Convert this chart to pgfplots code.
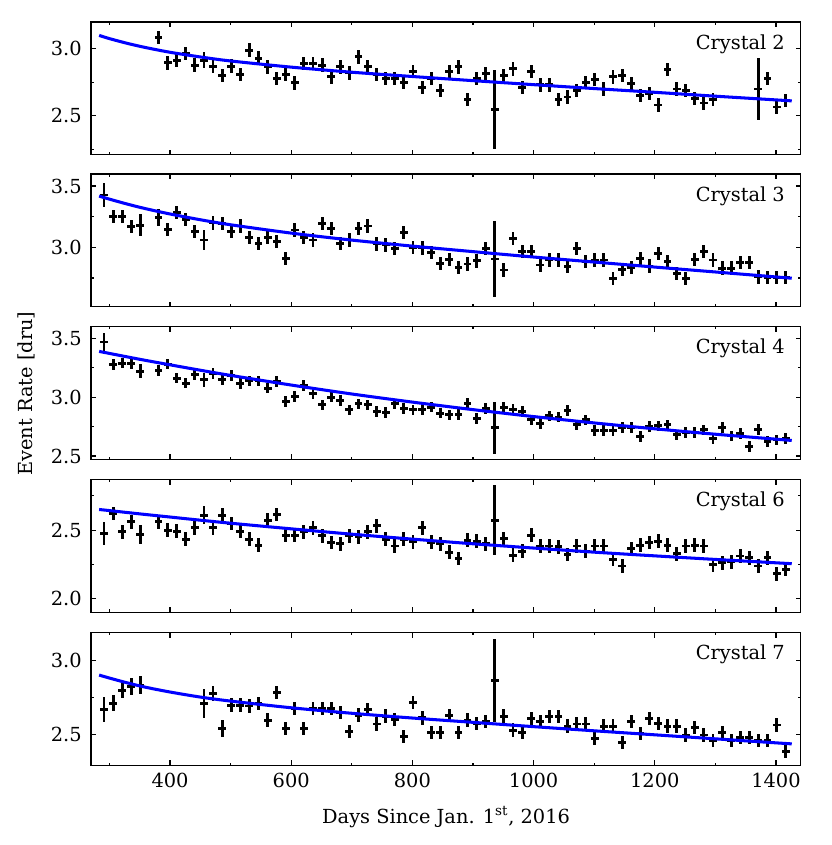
\documentclass[border=0pt]{standalone}
\usepackage{fontspec}
\setmainfont{DejaVu Serif}
\usepackage{pgfplots}
\pgfplotsset{compat=1.18}
\usepackage{pgfplotstable}

\pgfplotstableread{
x y e
381 3.085 0.05
396 2.895 0.05
411 2.915 0.05
426 2.965 0.05
441 2.878 0.05
456 2.915 0.06
471 2.870 0.05
486 2.800 0.05
501 2.870 0.05
516 2.810 0.05
531 2.990 0.05
546 2.930 0.05
561 2.865 0.05
576 2.780 0.05
591 2.810 0.05
606 2.745 0.05
621 2.890 0.05
636 2.890 0.05
651 2.878 0.05
666 2.790 0.05
681 2.865 0.05
696 2.820 0.05
711 2.940 0.05
726 2.865 0.05
741 2.810 0.05
756 2.780 0.05
771 2.780 0.05
786 2.750 0.05
801 2.830 0.05
816 2.710 0.05
831 2.780 0.05
846 2.688 0.05
861 2.830 0.05
876 2.865 0.05
891 2.620 0.05
906 2.780 0.05
921 2.815 0.05
936 2.546 0.294
951 2.800 0.05
966 2.850 0.05
981 2.710 0.05
996 2.830 0.05
1011 2.730 0.05
1026 2.730 0.05
1041 2.620 0.05
1056 2.640 0.05
1071 2.690 0.05
1086 2.750 0.05
1101 2.770 0.05
1116 2.700 0.05
1131 2.790 0.05
1146 2.800 0.05
1161 2.740 0.05
1176 2.650 0.05
1191 2.665 0.05
1206 2.580 0.05
1221 2.845 0.05
1236 2.700 0.05
1251 2.690 0.05
1266 2.630 0.05
1281 2.595 0.05
1296 2.620 0.05
1371 2.700 0.229
1386 2.780 0.05
1401 2.565 0.05
1416 2.615 0.05
}\tabA

\pgfplotstableread{
x y e
291 3.427 0.10
306 3.250 0.055
321 3.250 0.055
336 3.168 0.055
351 3.180 0.088
381 3.245 0.07
396 3.147 0.055
411 3.283 0.055
426 3.228 0.055
441 3.128 0.055
456 3.060 0.08
471 3.200 0.055
486 3.196 0.055
501 3.128 0.055
516 3.174 0.055
531 3.080 0.055
546 3.033 0.055
561 3.080 0.055
576 3.046 0.055
591 2.910 0.055
606 3.141 0.055
621 3.080 0.055
636 3.060 0.055
651 3.196 0.055
666 3.155 0.055
681 3.033 0.055
696 3.060 0.055
711 3.155 0.055
726 3.174 0.055
741 3.027 0.055
756 3.019 0.055
771 2.990 0.055
786 3.120 0.055
801 3.000 0.055
816 2.995 0.055
831 2.958 0.055
846 2.870 0.055
861 2.900 0.055
876 2.834 0.055
891 2.864 0.055
906 2.890 0.055
921 2.990 0.055
936 2.905 0.31
951 2.815 0.055
966 3.073 0.055
981 2.965 0.055
996 2.965 0.055
1011 2.856 0.055
1026 2.897 0.055
1041 2.897 0.055
1056 2.842 0.055
1071 2.990 0.055
1086 2.883 0.055
1101 2.897 0.055
1116 2.897 0.055
1131 2.747 0.055
1146 2.820 0.055
1161 2.837 0.055
1176 2.910 0.055
1191 2.848 0.055
1206 2.950 0.055
1221 2.883 0.055
1236 2.788 0.055
1251 2.747 0.055
1266 2.902 0.055
1281 2.965 0.055
1296 2.897 0.055
1311 2.830 0.055
1326 2.830 0.055
1341 2.875 0.055
1356 2.875 0.055
1371 2.760 0.055
1386 2.755 0.055
1401 2.755 0.055
1416 2.755 0.055
}\tabB

\pgfplotstableread{
x y e
291 3.469 0.078
306 3.276 0.045
321 3.290 0.045
336 3.284 0.045
351 3.219 0.06
381 3.227 0.05
396 3.281 0.045
411 3.162 0.045
426 3.119 0.045
441 3.190 0.045
456 3.148 0.06
471 3.199 0.045
486 3.148 0.045
501 3.182 0.045
516 3.114 0.045
531 3.139 0.045
546 3.139 0.045
561 3.077 0.045
576 3.134 0.045
591 2.963 0.045
606 3.006 0.045
621 3.097 0.045
636 3.028 0.045
651 2.935 0.045
666 3.000 0.045
681 2.972 0.045
696 2.892 0.045
711 2.943 0.045
726 2.935 0.045
741 2.878 0.045
756 2.869 0.045
771 2.943 0.045
786 2.906 0.045
801 2.892 0.045
816 2.895 0.045
831 2.915 0.045
846 2.864 0.045
861 2.850 0.045
876 2.853 0.045
891 2.949 0.045
906 2.821 0.045
921 2.906 0.045
936 2.740 0.223
951 2.915 0.045
966 2.898 0.045
981 2.878 0.045
996 2.807 0.045
1011 2.778 0.045
1026 2.841 0.045
1041 2.830 0.045
1056 2.886 0.045
1071 2.764 0.045
1086 2.807 0.045
1101 2.716 0.045
1116 2.716 0.045
1131 2.716 0.045
1146 2.744 0.045
1161 2.744 0.045
1176 2.665 0.045
1191 2.750 0.045
1206 2.756 0.045
1221 2.764 0.045
1236 2.679 0.045
1251 2.699 0.045
1266 2.699 0.045
1281 2.722 0.045
1296 2.651 0.045
1311 2.744 0.045
1326 2.670 0.045
1341 2.693 0.045
1356 2.580 0.045
1371 2.727 0.045
1386 2.622 0.045
1401 2.636 0.045
1416 2.651 0.045
}\tabC

\pgfplotstableread{
x y e
291 2.476 0.083
306 2.622 0.05
321 2.488 0.05
336 2.561 0.05
351 2.468 0.07
381 2.561 0.05
396 2.500 0.05
411 2.493 0.05
426 2.434 0.05
441 2.517 0.05
456 2.610 0.065
471 2.517 0.05
486 2.610 0.05
501 2.549 0.05
516 2.493 0.05
531 2.434 0.05
546 2.390 0.05
561 2.573 0.05
576 2.615 0.05
591 2.463 0.05
606 2.463 0.05
621 2.488 0.05
636 2.517 0.05
651 2.459 0.05
666 2.410 0.05
681 2.402 0.05
696 2.459 0.05
711 2.451 0.05
726 2.488 0.05
741 2.532 0.05
756 2.434 0.05
771 2.385 0.05
786 2.434 0.05
801 2.415 0.05
816 2.517 0.05
831 2.412 0.05
846 2.400 0.05
861 2.340 0.05
876 2.293 0.05
891 2.427 0.05
906 2.420 0.05
921 2.402 0.05
936 2.573 0.256
951 2.439 0.05
966 2.317 0.05
981 2.346 0.05
996 2.463 0.05
1011 2.385 0.05
1026 2.385 0.05
1041 2.378 0.05
1056 2.322 0.05
1071 2.385 0.05
1086 2.346 0.05
1101 2.385 0.05
1116 2.385 0.05
1131 2.288 0.05
1146 2.239 0.05
1161 2.366 0.05
1176 2.390 0.05
1191 2.410 0.05
1206 2.420 0.05
1221 2.390 0.05
1236 2.329 0.05
1251 2.385 0.05
1266 2.390 0.05
1281 2.385 0.05
1296 2.249 0.05
1311 2.263 0.05
1326 2.268 0.05
1341 2.312 0.05
1356 2.298 0.05
1371 2.239 0.05
1386 2.298 0.05
1401 2.183 0.05
1416 2.215 0.05
}\tabD

\pgfplotstableread{
x y e
291 2.668 0.084
306 2.709 0.055
321 2.798 0.055
336 2.821 0.055
351 2.832 0.06
456 2.709 0.098
471 2.776 0.05
486 2.540 0.06
501 2.697 0.045
516 2.697 0.045
531 2.691 0.045
546 2.709 0.045
561 2.596 0.045
576 2.780 0.045
591 2.540 0.045
606 2.675 0.045
621 2.540 0.045
636 2.675 0.045
651 2.675 0.045
666 2.675 0.045
681 2.646 0.045
696 2.518 0.045
711 2.630 0.045
726 2.668 0.045
741 2.570 0.045
756 2.623 0.045
771 2.601 0.045
786 2.484 0.045
801 2.713 0.045
816 2.611 0.045
831 2.512 0.045
846 2.512 0.045
861 2.625 0.045
876 2.512 0.045
891 2.596 0.045
906 2.574 0.045
921 2.585 0.045
936 2.865 0.28
951 2.623 0.045
966 2.529 0.045
981 2.511 0.045
996 2.608 0.045
1011 2.585 0.045
1026 2.619 0.045
1041 2.619 0.045
1056 2.556 0.045
1071 2.570 0.045
1086 2.570 0.045
1101 2.473 0.045
1116 2.556 0.045
1131 2.556 0.045
1146 2.444 0.045
1161 2.585 0.045
1176 2.507 0.045
1191 2.608 0.045
1206 2.574 0.045
1221 2.556 0.045
1236 2.556 0.045
1251 2.496 0.045
1266 2.547 0.045
1281 2.496 0.045
1296 2.457 0.045
1311 2.511 0.045
1326 2.457 0.045
1341 2.480 0.045
1356 2.480 0.045
1371 2.457 0.045
1386 2.457 0.045
1401 2.563 0.045
1416 2.383 0.045
}\tabE

\pgfplotsset{
  panel/.style={
    width=512.9pt, height=95.8pt, scale only axis,
    xmin=269.6, xmax=1440.8,
    xtick={400,600,...,1400}, minor xtick={300,500,...,1300},
    tick pos=both, tick align=inside,
    major tick length=3.6pt, minor tick length=2pt,
    tick style={black, line width=0.8pt},
    axis line style={line width=1pt, black},
    ytick={2.0,2.5,3.0,3.5}, minor ytick={2.25,2.75,3.25},
    tick label style={font=\fontsize{14}{16}\selectfont},
    /pgf/number format/assume math mode=true,
    /pgf/number format/1000 sep={},
    yticklabel style={/pgf/number format/fixed, /pgf/number format/fixed zerofill, /pgf/number format/precision=1, inner sep=0pt, xshift=-6.5pt},
    xticklabel style={inner sep=0pt, yshift=-5.6pt},
    scaled ticks=false,
    anchor=north west,
  },
  datapts/.style={draw=none, mark=none, forget plot,
    error bars/.cd, x dir=both, x fixed=6.5, y dir=both, y explicit,
    error mark=none, error bar style={draw=black, solid, line width=2.1pt}},
  fitline/.style={draw=blue, line width=2.2pt, smooth, mark=none},
}
\tikzset{crys/.style={anchor=base east, inner sep=0pt, font=\fontsize{14}{16}\selectfont}}

\begin{document}
\begin{tikzpicture}
\useasboundingbox (-65.77pt,15.90pt) rectangle (534.80pt,-594.78pt);

\begin{axis}[panel, at={(0pt,0pt)}, ymin=2.21, ymax=3.20, xticklabels={}]
\addplot[datapts] table[x=x, y=y, y error=e] {\tabA};
\addplot[fitline] coordinates {(283,3.100) (300,3.076) (330,3.040) (360,3.009) (400,2.974) (450,2.939) (500,2.909) (600,2.863) (700,2.825) (800,2.793) (900,2.762) (1000,2.732) (1100,2.703) (1200,2.675) (1300,2.646) (1426,2.611)};
\node[crys] at ([xshift=-11.3pt, yshift=-19.7pt]rel axis cs:1,1) {Crystal 2};
\end{axis}

\begin{axis}[panel, at={(0pt,-109.85pt)}, ymin=2.517, ymax=3.598, xticklabels={}]
\addplot[datapts] table[x=x, y=y, y error=e] {\tabB};
\addplot[fitline] coordinates {(283,3.418) (300,3.393) (330,3.352) (360,3.315) (400,3.272) (450,3.225) (500,3.184) (600,3.116) (700,3.059) (800,3.010) (900,2.965) (1000,2.921) (1100,2.880) (1200,2.839) (1300,2.799) (1426,2.748)};
\node[crys] at ([xshift=-11.3pt, yshift=-19.7pt]rel axis cs:1,1) {Crystal 3};
\end{axis}

\begin{axis}[panel, at={(0pt,-220.21pt)}, ymin=2.472, ymax=3.599, xticklabels={}]
\addplot[datapts] table[x=x, y=y, y error=e] {\tabC};
\addplot[fitline] coordinates {(283,3.389) (300,3.372) (350,3.322) (400,3.275) (450,3.229) (500,3.185) (600,3.103) (700,3.027) (800,2.958) (900,2.894) (1000,2.835) (1100,2.781) (1200,2.731) (1300,2.685) (1426,2.632)};
\node[crys] at ([xshift=-11.3pt, yshift=-19.7pt]rel axis cs:1,1) {Crystal 4};
\end{axis}

\begin{axis}[panel, at={(0pt,-330.78pt)}, ymin=1.902, ymax=2.868, xticklabels={}]
\addplot[datapts] table[x=x, y=y, y error=e] {\tabD};
\addplot[fitline] coordinates {(283,2.651) (300,2.643) (350,2.619) (400,2.596) (450,2.573) (500,2.551) (600,2.510) (700,2.471) (800,2.435) (900,2.401) (1000,2.370) (1100,2.340) (1200,2.313) (1300,2.287) (1426,2.256)};
\node[crys] at ([xshift=-11.3pt, yshift=-19.7pt]rel axis cs:1,1) {Crystal 6};
\end{axis}

\begin{axis}[panel, at={(0pt,-441.36pt)}, ymin=2.292, ymax=3.184]
\addplot[datapts] table[x=x, y=y, y error=e] {\tabE};
\addplot[fitline] coordinates {(283,2.899) (300,2.879) (330,2.846) (360,2.817) (400,2.785) (450,2.751) (500,2.724) (600,2.679) (700,2.642) (800,2.610) (900,2.581) (1000,2.552) (1100,2.524) (1200,2.497) (1300,2.470) (1426,2.436)};
\node[crys] at ([xshift=-11.3pt, yshift=-19.7pt]rel axis cs:1,1) {Crystal 7};
\end{axis}

\node[anchor=base, inner sep=0pt, font=\fontsize{14}{16}\selectfont] at (256.6pt,-578.9pt) {Days Since Jan. 1\textsuperscript{st}, 2016};
\node[rotate=90, inner sep=0pt, font=\fontsize{14}{16}\selectfont] at (-46.98pt,-268.6pt) {Event Rate [dru]};
\end{tikzpicture}
\end{document}
